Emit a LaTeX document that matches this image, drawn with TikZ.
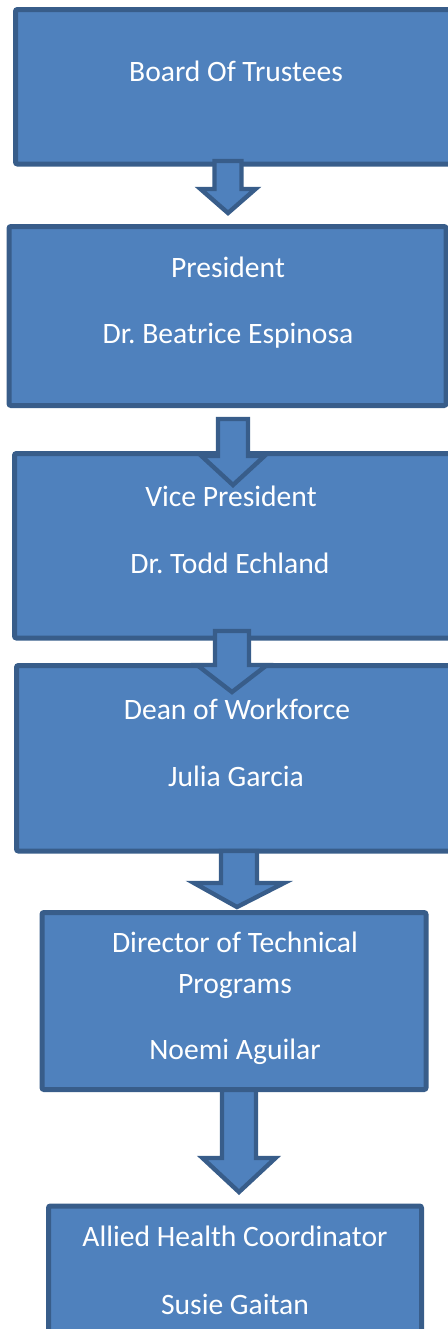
\documentclass[tikz,border=0pt]{standalone}
\usepackage{fontspec}
\setmainfont{Carlito}
\usepackage{tikz}
\usetikzlibrary{calc,positioning}
\definecolor{boxfill}{HTML}{4F81BD}
\definecolor{boxline}{HTML}{385D8A}
\frenchspacing
\tikzset{
    %Define style for boxes
    orgbox/.style={
           rectangle,
           rounded corners=1pt,
           draw=boxline,
           line width=2.5pt,
           fill=boxfill,
           inner sep=0pt},
    %Define style for texts
    boxtext/.style={
           anchor=base,
           inner sep=0pt,
           text=white,
           font=\fontsize{14.8}{17}\selectfont},
    % Define block arrow style
    flowarrow/.style={
           draw=boxline,
           line width=2.2pt,
           line join=miter,
           fill=boxfill}
}
% block arrow: top, tip, shaft half width, head half width, head length
\newcommand{\blockarrow}[5]{%
  \path[flowarrow] let \p1=(#1), \p2=(#2) in
    (\x1-#3,\y1) -- (\x1+#3,\y1) -- (\x1+#3,\y2+#5) -- (\x1+#4,\y2+#5)
    -- (\x2,\y2) -- (\x1-#4,\y2+#5) -- (\x1-#3,\y2+#5) -- cycle;}
\begin{document}
\begin{tikzpicture}[x=0.5pt,y=-0.5pt]
\useasboundingbox (0,0) rectangle (448,1329);
\clip (0,0) rectangle (448,1329);
% boxes
\node[orgbox, minimum width=219.75pt, minimum height=77.25pt] (b1) at (235.25,86.75) {};
\node[orgbox, minimum width=218.5pt, minimum height=89.5pt] (b2) at (227.5,316) {};
\node[orgbox, minimum width=220.25pt, minimum height=92.25pt] (b3) at (234.75,545.75) {};
\node[orgbox, minimum width=219.25pt, minimum height=92.75pt] (b4) at (235.75,758.25) {};
\node[orgbox, minimum width=192pt, minimum height=88.5pt] (b5) at (234,1001) {};
\node[orgbox, minimum width=186.5pt, minimum height=67pt] (b6) at (235,1273) {};
% arrows
\coordinate (a1top) at (228,161);  \coordinate (a1tip) at (228,213);
\coordinate (a2top) at (233,419);  \coordinate (a2tip) at (233,485);
\coordinate (a3top) at (232,631);  \coordinate (a3tip) at (232,692);
\coordinate (a4top) at (239,851);  \coordinate (a4tip) at (237,907);
\coordinate (a5top) at (239,1090); \coordinate (a5tip) at (239,1192);
\blockarrow{a1top}{a1tip}{6.75pt}{13.75pt}{12pt}
\blockarrow{a2top}{a2tip}{7.5pt}{15.75pt}{14.5pt}
\blockarrow{a3top}{a3tip}{8.5pt}{17.5pt}{13.5pt}
\blockarrow{a4top}{a4tip}{9pt}{22.5pt}{12pt}
\blockarrow{a5top}{a5tip}{8.5pt}{18.25pt}{17pt}
% texts
\node[boxtext] (t1) at (236,81) {Board Of Trustees};
\node[boxtext] (t2a) at (228,277) {President};
\node[boxtext] (t2b) at (228,343) {Dr. Beatrice Espinosa};
\node[boxtext] (t3a) at (231,506) {Vice President};
\node[boxtext] (t3b) at (230,573) {Dr. Todd Echland};
\node[boxtext] (t4a) at (237,719) {Dean of Workforce};
\node[boxtext] (t4b) at (236,786) {Julia Garcia};
\node[boxtext] (t5a) at (235,952) {Director of Technical};
\node[boxtext] (t5b) at (235,993) {Programs};
\node[boxtext] (t5c) at (235,1059) {Noemi Aguilar};
\node[boxtext] (t6a) at (235,1246) {Allied Health Coordinator};
\node[boxtext] (t6b) at (235,1314) {Susie Gaitan};
\end{tikzpicture}
\end{document}
